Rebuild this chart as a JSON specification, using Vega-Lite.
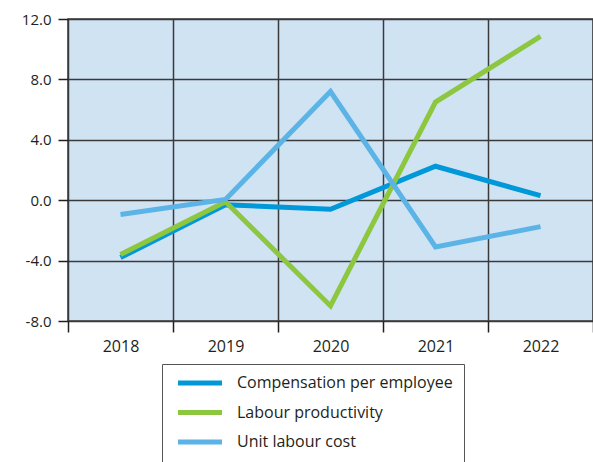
{
  "$schema": "https://vega.github.io/schema/vega-lite/v6.json",
  "autosize": {"type": "none"},
  "padding": {"left": 68, "top": 19, "right": 0, "bottom": 141},
  "width": 525,
  "height": 302,
  "background": "white",
  "config": {
    "font": "Open Sans",
    "locale": {"number": {"decimal": ".", "thousands": ",", "grouping": [3], "currency": ["$", ""], "minus": "-"}},
    "view": {"fill": "#CFE3F3", "stroke": "#3a3a3a", "strokeWidth": 1.5},
    "axis": {"labelColor": "#231F20", "gridColor": "#3a3a3a", "gridWidth": 1.5, "gridOpacity": 1, "tickColor": "#231F20", "tickWidth": 1.5, "domain": false, "title": null}
  },
  "data": {
    "values": [
      {"year": "2018", "series": "Compensation per employee", "value": -3.8},
      {"year": "2019", "series": "Compensation per employee", "value": -0.3},
      {"year": "2020", "series": "Compensation per employee", "value": -0.6},
      {"year": "2021", "series": "Compensation per employee", "value": 2.25},
      {"year": "2022", "series": "Compensation per employee", "value": 0.3},
      {"year": "2018", "series": "Labour productivity", "value": -3.6},
      {"year": "2019", "series": "Labour productivity", "value": -0.1},
      {"year": "2020", "series": "Labour productivity", "value": -7.0},
      {"year": "2021", "series": "Labour productivity", "value": 6.5},
      {"year": "2022", "series": "Labour productivity", "value": 10.85},
      {"year": "2018", "series": "Unit labour cost", "value": -0.95},
      {"year": "2019", "series": "Unit labour cost", "value": 0.05},
      {"year": "2020", "series": "Unit labour cost", "value": 7.2},
      {"year": "2021", "series": "Unit labour cost", "value": -3.1},
      {"year": "2022", "series": "Unit labour cost", "value": -1.75}
    ]
  },
  "mark": {"type": "line", "strokeWidth": 5, "strokeCap": "butt"},
  "encoding": {
    "x": {
      "field": "year", "type": "ordinal",
      "scale": {"type": "band", "paddingInner": 0, "paddingOuter": 0},
      "axis": {"labelAngle": 0, "grid": true, "tickBand": "extent", "tickSize": 11, "labelFontSize": 16, "labelPadding": 6}
    },
    "y": {
      "field": "value", "type": "quantitative",
      "scale": {"domain": [-8, 12], "nice": false, "zero": false},
      "axis": {"values": [-8, -4, 0, 4, 8, 12], "format": ".1f", "tickSize": 10, "labelFontSize": 15, "labelPadding": 7, "grid": true}
    },
    "color": {
      "field": "series", "type": "nominal",
      "scale": {"domain": ["Compensation per employee", "Labour productivity", "Unit labour cost"], "range": ["#0098D8", "#8DC63F", "#5BB4E5"]},
      "legend": {
        "title": null, "orient": "none", "legendX": 94, "legendY": 345,
        "direction": "vertical",
        "symbolType": "M-4.4,0H4.4", "symbolSize": 100, "symbolStrokeWidth": 5,
        "symbolOffset": 19,
        "labelFontSize": 16, "labelColor": "#231F20", "labelOffset": 29, "labelLimit": 400,
        "rowPadding": 9.5, "padding": 11,
        "strokeColor": "#555555", "fillColor": "white"
      }
    }
  }
}
